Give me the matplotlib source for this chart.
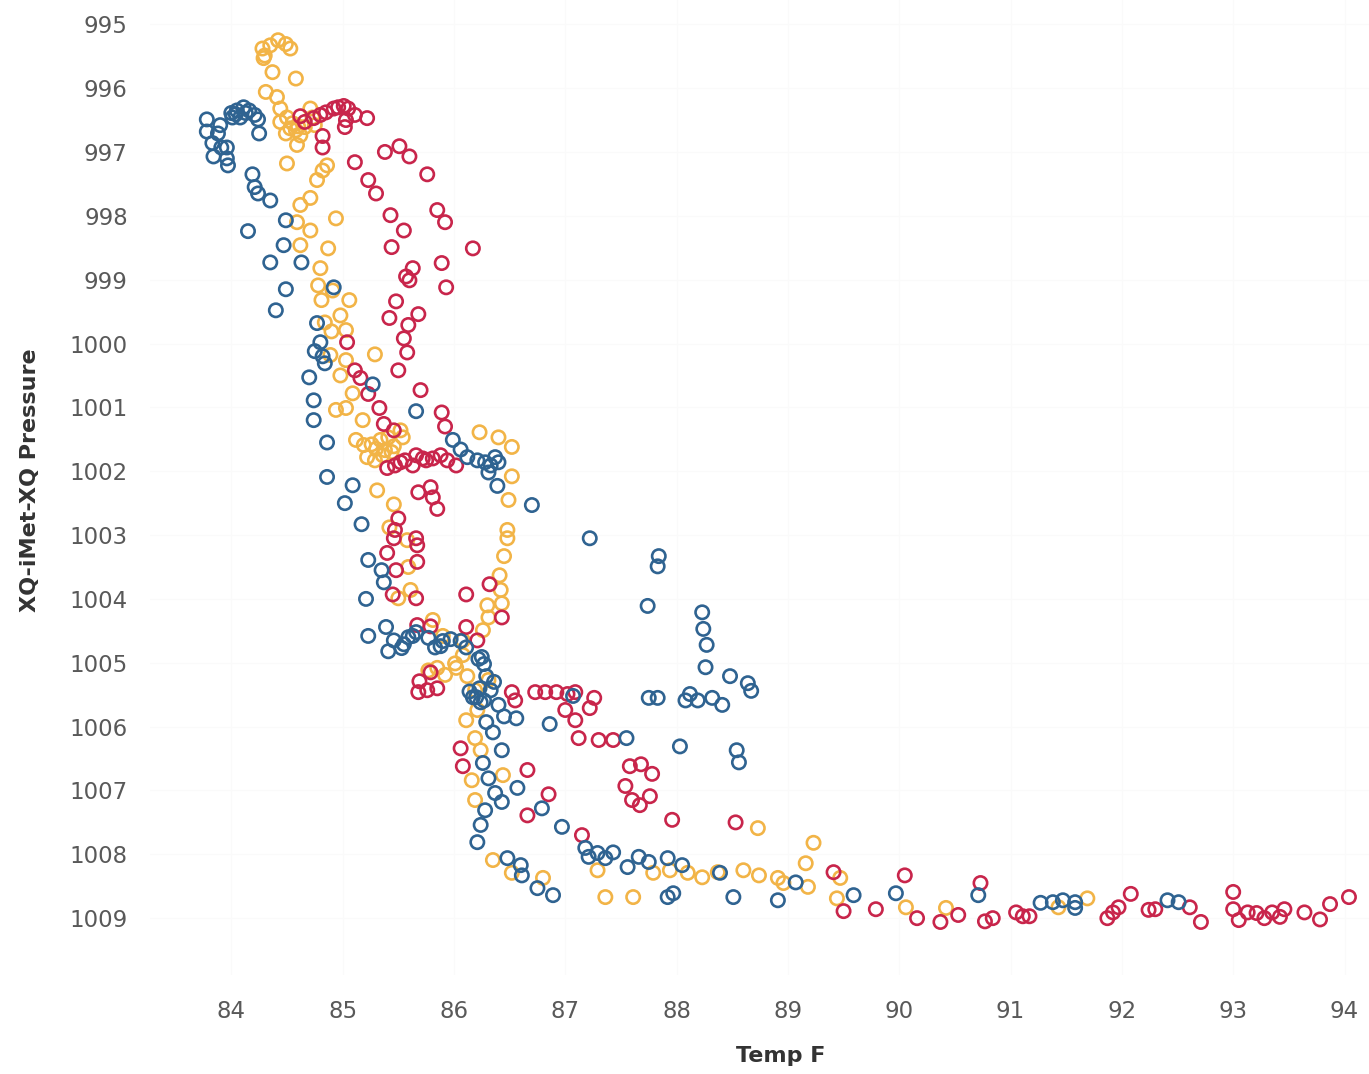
import matplotlib.pyplot as plt

# Temp F / pressure readings for the three sondes
blue_temp = [83.78, 83.78, 83.83, 83.88, 83.91, 83.96, 83.97, 83.84, 83.96, 84.00, 84.05, 84.11, 84.16, 84.21,
             84.24, 84.25, 84.13, 84.08, 84.04, 83.90, 84.01, 84.19, 84.21, 84.24, 84.35, 84.15, 84.49, 84.47,
             84.35, 84.63, 84.49, 84.40, 84.92, 84.77, 84.80, 84.75, 84.82, 84.84, 84.70, 84.74, 84.74, 84.86,
             84.86, 85.09, 85.02, 85.17, 85.27, 85.66, 85.99, 86.06, 86.12, 86.21, 86.28, 86.33, 86.37, 86.40,
             86.31, 86.39, 86.70, 87.22, 87.84, 87.83, 87.74, 88.23, 88.24, 88.27, 88.26, 88.48, 88.64, 88.67,
             88.41, 88.12, 88.08, 88.19, 88.32, 87.75, 87.83, 88.03, 88.54, 88.56, 86.86, 86.56, 85.23, 85.35,
             85.37, 85.21, 85.23, 85.39, 85.46, 85.41, 85.53, 85.59, 85.66, 85.77, 85.83, 85.90, 86.06, 86.11,
             86.22, 86.27, 86.29, 86.23, 86.20, 86.27, 86.33, 86.40, 86.29, 86.35, 86.43, 86.17, 86.25, 85.55,
             85.63, 85.88, 85.97, 86.26, 86.31, 86.37, 86.43, 86.57, 86.28, 86.24, 86.21, 86.48, 86.60, 86.61,
             86.75, 86.89, 86.79, 86.97, 87.18, 87.21, 87.29, 87.36, 87.43, 87.56, 87.66, 87.75, 87.92, 88.05,
             88.39, 88.51, 87.92, 87.97, 88.91, 89.07, 89.59, 89.97, 90.71, 91.27, 91.38, 91.47, 91.58, 91.58,
             92.41, 92.51, 87.55, 87.07, 86.24, 86.14, 86.36, 86.45]
blue_pres = [996.49, 996.68, 996.86, 996.71, 996.93, 997.10, 997.21, 997.07, 996.93, 996.39, 996.35, 996.30,
             996.35, 996.42, 996.49, 996.71, 996.39, 996.46, 996.41, 996.58, 996.46, 997.35, 997.55, 997.65,
             997.76, 998.24, 998.07, 998.46, 998.73, 998.73, 999.15, 999.48, 999.12, 999.68, 999.98, 1000.12,
             1000.20, 1000.31, 1000.53, 1000.89, 1001.20, 1001.55, 1002.09, 1002.22, 1002.50, 1002.83, 1000.64,
             1001.06, 1001.51, 1001.66, 1001.78, 1001.83, 1001.86, 1001.91, 1001.78, 1001.86, 1002.02, 1002.23,
             1002.53, 1003.05, 1003.33, 1003.49, 1004.11, 1004.21, 1004.47, 1004.72, 1005.07, 1005.21, 1005.32,
             1005.44, 1005.66, 1005.49, 1005.59, 1005.59, 1005.55, 1005.55, 1005.55, 1006.31, 1006.37, 1006.56,
             1005.96, 1005.87, 1003.39, 1003.55, 1003.74, 1004.00, 1004.58, 1004.44, 1004.65, 1004.82, 1004.77,
             1004.60, 1004.52, 1004.61, 1004.76, 1004.66, 1004.66, 1004.76, 1004.94, 1005.02, 1005.21, 1005.40,
             1005.54, 1005.59, 1005.43, 1005.66, 1005.93, 1006.09, 1006.37, 1005.54, 1004.91, 1004.71, 1004.58,
             1004.74, 1004.63, 1006.57, 1006.81, 1007.04, 1007.18, 1006.96, 1007.31, 1007.54, 1007.81, 1008.06,
             1008.17, 1008.33, 1008.53, 1008.64, 1007.28, 1007.57, 1007.90, 1008.04, 1007.98, 1008.06, 1007.97,
             1008.20, 1008.04, 1008.12, 1008.06, 1008.17, 1008.29, 1008.67, 1008.67, 1008.61, 1008.72, 1008.44,
             1008.64, 1008.61, 1008.64, 1008.76, 1008.75, 1008.72, 1008.75, 1008.84, 1008.72, 1008.75, 1006.18,
             1005.52, 1005.62, 1005.45, 1005.30, 1005.84]

red_temp = [84.62, 84.66, 84.74, 84.80, 84.85, 84.92, 84.96, 85.01, 85.05, 85.11, 85.22, 85.03, 85.02, 84.82,
            84.82, 85.11, 85.23, 85.30, 85.38, 85.51, 85.60, 85.76, 85.85, 85.92, 86.17, 85.43, 85.55, 85.44,
            85.63, 85.60, 85.57, 85.89, 85.93, 85.48, 85.42, 85.68, 85.59, 85.55, 85.58, 85.50, 85.04, 85.11,
            85.16, 85.23, 85.33, 85.70, 85.89, 85.92, 85.37, 85.46, 85.66, 85.72, 85.56, 85.47, 85.40, 85.52,
            85.63, 85.75, 85.81, 85.94, 85.88, 86.02, 85.79, 85.81, 85.68, 85.85, 85.50, 85.47, 85.46, 85.40,
            85.48, 85.66, 85.67, 85.67, 85.45, 85.66, 86.11, 86.32, 86.43, 86.21, 86.11, 85.67, 85.79, 85.69,
            85.68, 85.76, 85.85, 85.79, 86.52, 86.55, 86.73, 86.82, 86.92, 87.02, 87.09, 87.26, 87.00, 87.09,
            87.22, 87.12, 87.30, 87.43, 87.58, 87.68, 87.78, 87.54, 87.60, 87.67, 87.76, 86.06, 86.08, 86.66,
            86.85, 86.66, 87.15, 87.96, 88.53, 89.41, 89.50, 89.79, 90.05, 90.16, 90.37, 90.53, 90.73, 90.77,
            90.84, 91.05, 91.11, 91.17, 91.87, 91.92, 91.97, 92.08, 92.24, 92.30, 92.61, 92.71, 93.00, 93.00,
            93.05, 93.13, 93.21, 93.28, 93.35, 93.42, 93.46, 93.64, 93.78, 93.87, 94.04]
red_pres = [996.44, 996.53, 996.47, 996.42, 996.38, 996.32, 996.30, 996.28, 996.32, 996.42, 996.47, 996.50,
            996.61, 996.75, 996.93, 997.16, 997.44, 997.65, 997.00, 996.91, 997.07, 997.35, 997.91, 998.10,
            998.51, 997.99, 998.23, 998.49, 998.82, 999.01, 998.95, 998.74, 999.12, 999.34, 999.60, 999.54,
            999.71, 999.92, 1000.14, 1000.42, 999.98, 1000.42, 1000.54, 1000.79, 1001.01, 1000.73, 1001.08,
            1001.30, 1001.26, 1001.36, 1001.75, 1001.80, 1001.83, 1001.91, 1001.95, 1001.86, 1001.91, 1001.83,
            1001.80, 1001.83, 1001.75, 1001.91, 1002.25, 1002.41, 1002.33, 1002.59, 1002.74, 1002.92, 1003.05,
            1003.28, 1003.55, 1003.05, 1003.16, 1003.42, 1003.93, 1003.99, 1003.93, 1003.77, 1004.29, 1004.65,
            1004.44, 1004.41, 1004.43, 1005.29, 1005.46, 1005.43, 1005.40, 1005.15, 1005.46, 1005.59, 1005.46,
            1005.46, 1005.46, 1005.49, 1005.46, 1005.55, 1005.74, 1005.90, 1005.71, 1006.18, 1006.21, 1006.21,
            1006.62, 1006.59, 1006.74, 1006.93, 1007.15, 1007.23, 1007.09, 1006.34, 1006.62, 1006.68, 1007.06,
            1007.39, 1007.70, 1007.46, 1007.50, 1008.28, 1008.89, 1008.86, 1008.33, 1009.00, 1009.06, 1008.95,
            1008.45, 1009.05, 1009.00, 1008.91, 1008.97, 1008.97, 1009.00, 1008.91, 1008.83, 1008.62, 1008.87,
            1008.86, 1008.83, 1009.06, 1008.59, 1008.86, 1009.03, 1008.91, 1008.92, 1009.00, 1008.91, 1008.98,
            1008.86, 1008.91, 1009.02, 1008.78, 1008.67]

yellow_temp = [84.30, 84.35, 84.42, 84.49, 84.53, 84.28, 84.29, 84.37, 84.58, 84.31, 84.41, 84.44, 84.50, 84.44,
               84.53, 84.58, 84.62, 84.66, 84.59, 84.49, 84.50, 84.71, 84.73, 84.75, 84.82, 84.86, 84.77, 84.71,
               84.62, 84.59, 84.71, 84.94, 84.87, 84.62, 84.80, 84.78, 84.81, 84.91, 85.06, 84.98, 84.84, 84.90,
               85.03, 84.89, 85.29, 85.03, 84.98, 85.09, 84.94, 85.03, 85.18, 85.12, 85.19, 85.26, 85.34, 85.41,
               85.22, 85.29, 85.38, 85.46, 85.54, 85.52, 85.31, 85.46, 85.42, 85.58, 85.59, 85.50, 85.61, 85.81,
               85.90, 86.08, 86.23, 86.40, 86.52, 86.52, 86.49, 86.48, 86.48, 86.45, 86.41, 86.42, 86.43, 86.30,
               86.31, 86.26, 86.08, 86.01, 85.77, 85.85, 85.92, 86.02, 86.12, 86.19, 86.31, 86.21, 86.11, 86.19,
               86.24, 86.44, 86.16, 86.19, 86.35, 86.52, 86.80, 87.29, 87.36, 87.61, 87.79, 87.94, 88.10, 88.23,
               88.37, 88.60, 88.74, 88.91, 88.96, 89.18, 89.16, 89.23, 88.73, 89.44, 89.47, 90.06, 90.42, 91.43,
               91.69, 85.30, 85.36, 85.44, 84.55, 84.60]
yellow_pres = [995.49, 995.33, 995.25, 995.31, 995.38, 995.38, 995.53, 995.75, 995.85, 996.06, 996.14, 996.32,
               996.46, 996.53, 996.63, 996.66, 996.74, 996.61, 996.89, 996.71, 997.18, 996.32, 996.46, 996.58,
               997.29, 997.21, 997.44, 997.72, 997.83, 998.10, 998.23, 998.04, 998.51, 998.46, 998.82, 999.09,
               999.32, 999.17, 999.32, 999.56, 999.67, 999.81, 999.79, 1000.18, 1000.17, 1000.26, 1000.50,
               1000.78, 1001.04, 1001.01, 1001.20, 1001.51, 1001.59, 1001.58, 1001.51, 1001.47, 1001.78, 1001.83,
               1001.67, 1001.61, 1001.47, 1001.36, 1002.30, 1002.52, 1002.88, 1003.08, 1003.50, 1003.99, 1003.86,
               1004.33, 1004.58, 1004.65, 1001.39, 1001.47, 1001.62, 1002.08, 1002.45, 1002.92, 1003.05, 1003.33,
               1003.63, 1003.86, 1004.07, 1004.10, 1004.29, 1004.49, 1004.88, 1005.01, 1005.12, 1005.08, 1005.19,
               1005.08, 1005.21, 1005.43, 1005.27, 1005.74, 1005.90, 1006.18, 1006.37, 1006.76, 1006.84, 1007.15,
               1008.09, 1008.29, 1008.37, 1008.25, 1008.67, 1008.67, 1008.29, 1008.25, 1008.29, 1008.36, 1008.28,
               1008.25, 1008.33, 1008.37, 1008.45, 1008.51, 1008.14, 1007.82, 1007.59, 1008.69, 1008.37, 1008.83,
               1008.84, 1008.83, 1008.69, 1001.65, 1001.75, 1001.70, 996.55, 996.60]

x_ticks = list(range(84, 95))
y_ticks = list(range(995, 1010))

fig = plt.figure(figsize=(13.69, 10.74), dpi=100)
ax = fig.add_axes([0.1096, 0.0922, 0.8904, 0.9078])

marker_kw = dict(s=92, facecolors='none', linewidths=1.9, marker='o')
ax.scatter(yellow_temp, yellow_pres, edgecolors='#f2b447', **marker_kw)
ax.scatter(red_temp, red_pres, edgecolors='#c8254b', **marker_kw)
ax.scatter(blue_temp, blue_pres, edgecolors='#2f6391', **marker_kw)

ax.set_xlim(83.27, 94.22)
ax.set_ylim(1009.89, 994.62)
ax.set_xticks(x_ticks)
ax.set_yticks(y_ticks)
ax.set_xticklabels([str(v) for v in x_ticks])
ax.set_yticklabels([str(v) for v in y_ticks])
ax.tick_params(length=0, labelsize=16.5, labelcolor='#595959')
ax.tick_params(axis='x', pad=18)
ax.tick_params(axis='y', pad=16)
ax.grid(True, color='#fafafa', linewidth=1)
ax.set_axisbelow(True)
for sp in ax.spines.values():
    sp.set_visible(False)

fig.text(0.57, 0.017, 'Temp F', ha='center', va='center', fontsize=16, fontweight='bold', color='#333333')
fig.text(0.022, 0.553, 'XQ-iMet-XQ Pressure', ha='center', va='center', rotation=90,
         fontsize=16, fontweight='bold', color='#333333')

fig.savefig('out.png', dpi=100)
